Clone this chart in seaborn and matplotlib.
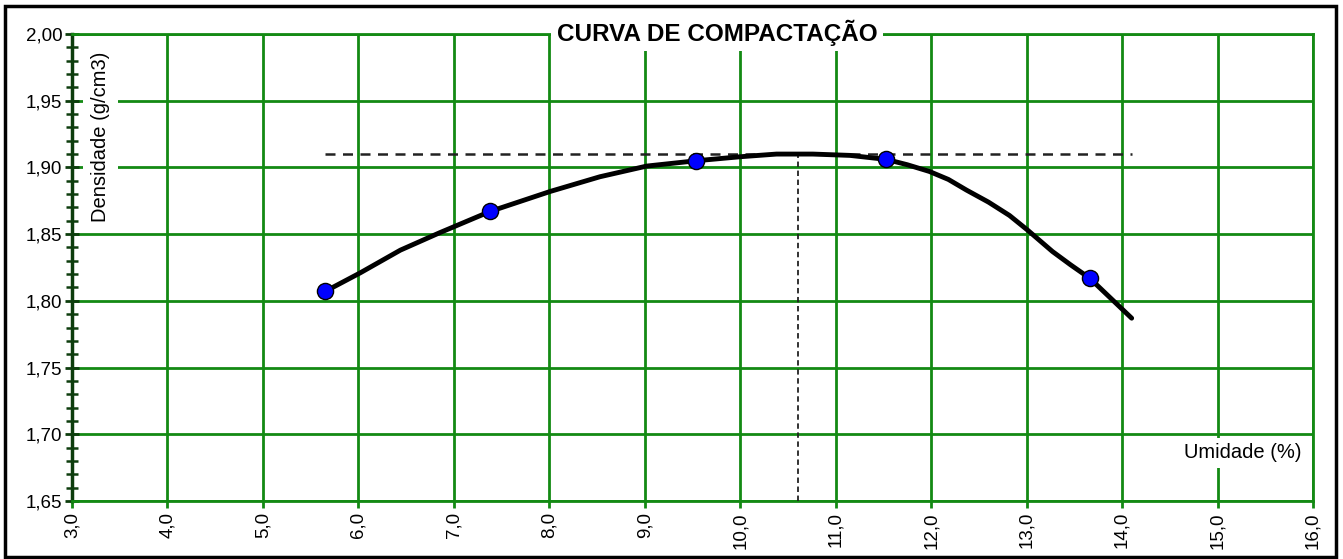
import matplotlib
matplotlib.use('Agg')
import matplotlib.pyplot as plt
import matplotlib.ticker as mticker
from matplotlib.patches import Rectangle
import numpy as np
import pandas as pd
import seaborn as sns

# ensaio (pontos medidos)
umidade = [5.65, 7.38, 9.54, 11.53, 13.66]
densidade = [1.807, 1.867, 1.905, 1.906, 1.817]

# curva ajustada
curva_umidade = [5.65, 6.02, 6.44, 6.85, 7.38, 8.01, 8.53, 9.02, 9.54, 10.00,
                 10.38, 10.76, 11.15, 11.53, 11.75, 11.98, 12.18, 12.37, 12.60,
                 12.82, 13.01, 13.27, 13.46, 13.66, 13.88, 14.10]
curva_densidade = [1.807, 1.821, 1.838, 1.851, 1.867, 1.882, 1.893, 1.901, 1.905,
                   1.908, 1.910, 1.910, 1.909, 1.906, 1.902, 1.897, 1.891, 1.883,
                   1.874, 1.864, 1.853, 1.837, 1.827, 1.817, 1.802, 1.787]

h_otima = 10.6
dens_max = 1.910

x_ticks = np.arange(3, 16.01, 1.0)
y_ticks = np.arange(1.65, 2.001, 0.05)

sns.set_style('white')
plt.rcParams['font.family'] = ['Liberation Sans', 'DejaVu Sans']
plt.rcParams['text.color'] = 'black'
plt.rcParams['xtick.color'] = 'black'
plt.rcParams['ytick.color'] = 'black'

verde = '#138a13'
escuro = '#0d3d0d'

fig = plt.figure(figsize=(13.43, 5.59), dpi=100)
ax = fig.add_axes([0.0536, 0.1038, 0.9241, 0.8354])

df_curva = pd.DataFrame({'w': curva_umidade, 'd': curva_densidade})
df_pts = pd.DataFrame({'w': umidade, 'd': densidade})

# linhas de referencia
ax.plot([umidade[0], curva_umidade[-1]], [dens_max, dens_max], color='#222222',
        lw=1.8, ls=(0, (4, 3)), zorder=3)
ax.plot([h_otima, h_otima], [1.65, dens_max + 0.003], color='#222222',
        lw=1.3, ls=(0, (3, 2)), zorder=3)

sns.lineplot(data=df_curva, x='w', y='d', ax=ax, color='black', lw=3.5,
             sort=False, zorder=4, solid_joinstyle='round', solid_capstyle='round')
sns.scatterplot(data=df_pts, x='w', y='d', ax=ax, color='#0000ff', s=135,
                edgecolor='black', linewidth=1.0, zorder=5)

ax.set_xlim(3, 16)
ax.set_ylim(1.65, 2.00)
ax.set_xticks(x_ticks)
ax.set_yticks(y_ticks)
ax.yaxis.set_minor_locator(mticker.MultipleLocator(0.01))
ax.xaxis.set_major_formatter(mticker.FuncFormatter(lambda v, p: f'{v:.1f}'.replace('.', ',')))
ax.yaxis.set_major_formatter(mticker.FuncFormatter(lambda v, p: f'{v:.2f}'.replace('.', ',')))
ax.grid(True, which='major', color=verde, lw=2.0, zorder=0)
ax.set_axisbelow(True)
for s in ['top', 'right', 'bottom']:
    ax.spines[s].set_color(verde)
    ax.spines[s].set_linewidth(2.0)
ax.spines['left'].set_color(escuro)
ax.spines['left'].set_linewidth(2.5)

ax.tick_params(axis='x', bottom=True, direction='out', length=5, width=2, color=verde,
               labelsize=13.5, labelrotation=90, pad=3, labelcolor='black')
ax.tick_params(axis='y', which='major', left=True, direction='inout', length=10, width=2,
               color=escuro, labelsize=13.5, pad=2, labelcolor='black')
ax.tick_params(axis='y', which='minor', left=True, direction='inout', length=8, width=1.8,
               color=escuro)
ax.set_xlabel('')
ax.set_ylabel('')

caixa = dict(facecolor='white', edgecolor='none', pad=4)
ax.text(9.76, 2.001, 'CURVA DE COMPACTAÇÃO', ha='center', va='center',
        fontsize=17.5, fontweight='bold', bbox=caixa, zorder=6, clip_on=False)
ax.text(3.30, 1.923, 'Densidade (g/cm3)', ha='center', va='center',
        rotation=90, fontsize=14.5, bbox=dict(facecolor='white', edgecolor='none', pad=6),
        zorder=6)
ax.text(15.26, 1.686, 'Umidade (%)', ha='center', va='center', fontsize=14.5,
        bbox=caixa, zorder=6)

fig.patches.append(Rectangle((0.004, 0.004), 0.991, 0.985, transform=fig.transFigure,
                             fill=False, edgecolor='black', lw=2.5))

plt.savefig('out.png', dpi=100)
